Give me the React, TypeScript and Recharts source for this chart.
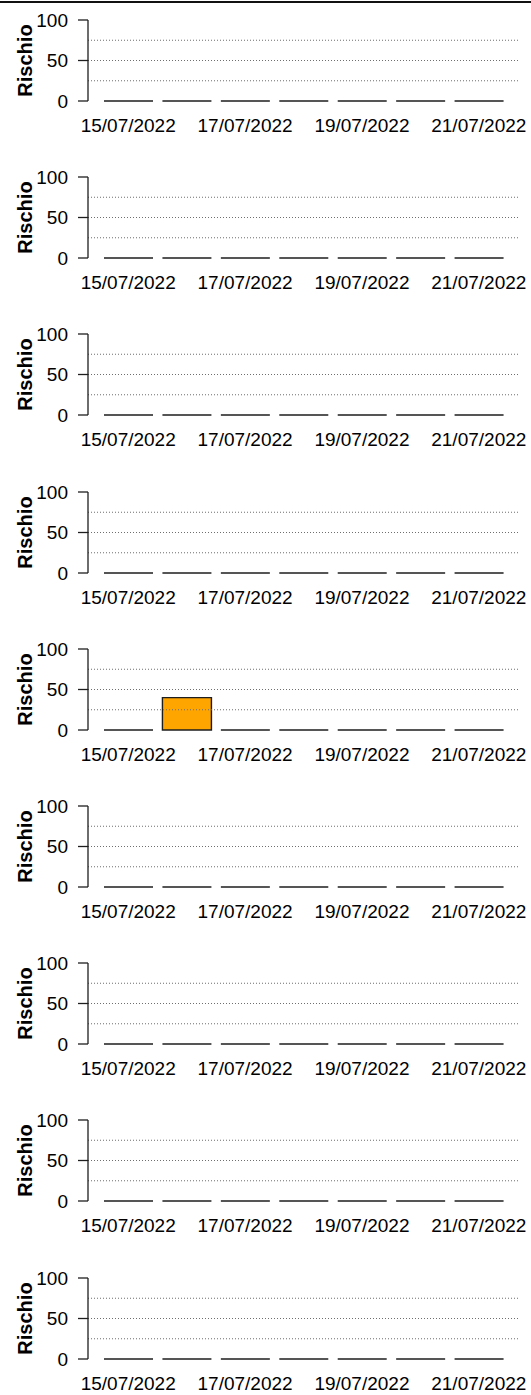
import React from 'react';
import { BarChart, Bar, XAxis, YAxis, ReferenceLine, Label } from 'recharts';

const dates = ['15/07/2022', '16/07/2022', '17/07/2022', '18/07/2022', '19/07/2022', '20/07/2022', '21/07/2022'];
const yTicks = [0, 50, 100];
const gridLevels = [25, 50, 75];

const risk1 = [0, 0, 0, 0, 0, 0, 0];
const risk2 = [0, 0, 0, 0, 0, 0, 0];
const risk3 = [0, 0, 0, 0, 0, 0, 0];
const risk4 = [0, 0, 0, 0, 0, 0, 0];
const risk5 = [0, 40, 0, 0, 0, 0, 0];
const risk6 = [0, 0, 0, 0, 0, 0, 0];
const risk7 = [0, 0, 0, 0, 0, 0, 0];
const risk8 = [0, 0, 0, 0, 0, 0, 0];
const risk9 = [0, 0, 0, 0, 0, 0, 0];

const panels = [risk1, risk2, risk3, risk4, risk5, risk6, risk7, risk8, risk9];

const FONT = '"Liberation Sans", Arial, Helvetica, sans-serif';
const STEP = 157.2;
const CHART_H = 150;
const INK = '#1e1e1e';

// R-style bar: zero values still show their outline as a flat line
function RBar(props: any) {
  const { x, y, width, height, value } = props;
  const d = `M${x},${y}h${width}v${height}h${-width}Z`;
  return <path d={d} fill={value > 0 ? '#FFA500' : 'none'} stroke={INK} strokeWidth={1.4} />;
}

function YTitle(props: any) {
  const vb = props.viewBox || { x: 0, y: 20, width: 88, height: 81 };
  const cx = 31.5;
  const cy = vb.y + vb.height / 2;
  return (
    <text x={cx} y={cy} transform={`rotate(-90 ${cx} ${cy})`} textAnchor="middle"
      fontFamily={FONT} fontSize={20} fontWeight="bold" fill="#000">
      Rischio
    </text>
  );
}

function Panel({ values }: { values: number[] }) {
  const data = dates.map((d, i) => ({ date: d, value: values[i] }));
  return (
    <BarChart width={531} height={CHART_H} data={data} margin={{ top: 20, right: 13, left: 0, bottom: 0 }}>
      {gridLevels.map(v => (
        <ReferenceLine key={v} y={v} stroke="#6e6e6e" strokeDasharray="1 2" />
      ))}
      <XAxis
        dataKey="date"
        interval={1}
        axisLine={false}
        tickLine={false}
        tickSize={0}
        tickMargin={17.5}
        padding={{ left: 11, right: 10 }}
        height={CHART_H - 20 - 81}
        tick={{ fill: '#000', fontSize: 19, fontFamily: FONT }}
      />
      <YAxis
        domain={[0, 100]}
        ticks={yTicks}
        interval={0}
        width={88}
        tickSize={10}
        tickMargin={10}
        axisLine={{ stroke: INK, strokeWidth: 1.3 }}
        tickLine={{ stroke: INK, strokeWidth: 1.3 }}
        tick={{ fill: '#000', fontSize: 19, fontFamily: FONT }}
      >
        <Label content={<YTitle />} />
      </YAxis>
      <Bar dataKey="value" barSize={49} shape={<RBar />} isAnimationActive={false} />
    </BarChart>
  );
}

export default function App() {
  return (
    <div style={{ position: 'absolute', left: 0, top: 0, width: 531, height: 1395, overflow: 'hidden', background: '#fff' }}>
      <div style={{ position: 'absolute', left: 0, top: 1, width: 531, height: 1.5, background: '#111' }} />
      {panels.map((vals, k) => (
        <div key={k} style={{ position: 'absolute', left: 0, top: STEP * k, width: 531, height: CHART_H }}>
          <Panel values={vals} />
        </div>
      ))}
    </div>
  );
}
